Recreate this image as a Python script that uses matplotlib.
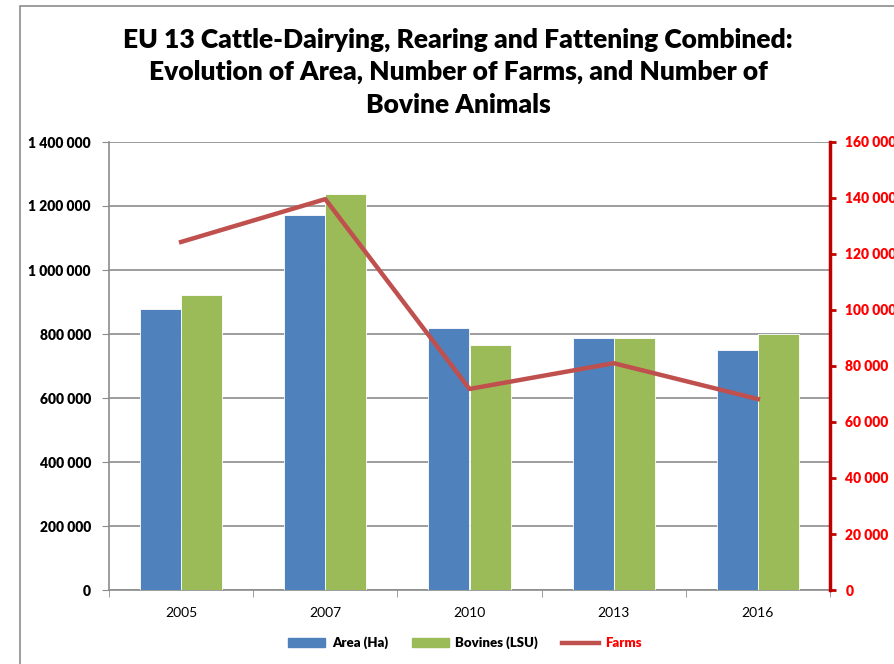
import numpy as np
import matplotlib.pyplot as plt
from matplotlib.patches import Patch, Rectangle
from matplotlib.lines import Line2D
from matplotlib.ticker import FuncFormatter, MultipleLocator

plt.rcParams['font.family'] = ['Lato', 'DejaVu Sans']

# Data
years = ['2005', '2007', '2010', '2013', '2016']
area_ha = [878000, 1172000, 819000, 787000, 750000]
bovines_lsu = [922000, 1238000, 766000, 787000, 800000]
farms = [124300, 139600, 71800, 81000, 68200]

title = ('EU 13 Cattle-Dairying, Rearing and Fattening Combined:\n'
         'Evolution of Area, Number of Farms, and Number of\n'
         'Bovine Animals')

blue = '#4F81BD'
green = '#9BBB59'
line_red = '#C0504D'
axis_red = '#C00000'
text_red = '#FF0000'
grid_grey = '#8C8C8C'


def space_fmt(v, pos):
    return f'{int(round(v)):,}'.replace(',', ' ')


fig = plt.figure(figsize=(8.94, 6.64), dpi=100)
# outer chart frame (cropped at right and bottom)
fig.patches.append(Rectangle((20 / 894, -0.05), 1.0, (664 - 6) / 664 + 0.05,
                             transform=fig.transFigure, fill=False,
                             edgecolor='#8C8C8C', linewidth=1.2))

ax = fig.add_axes([109 / 894, 74 / 664, 721 / 894, 448 / 664])
x = np.arange(len(years))
w = 0.285
ax.bar(x - w / 2, area_ha, w, color=blue, edgecolor='white', linewidth=0.6,
       zorder=3)
ax.bar(x + w / 2, bovines_lsu, w, color=green, edgecolor='white',
       linewidth=0.6, zorder=3)

ax.set_xlim(-0.5, len(years) - 0.5)
ax.set_ylim(0, 1400000)
ax.yaxis.set_major_locator(MultipleLocator(200000))
ax.yaxis.set_major_formatter(FuncFormatter(space_fmt))
ax.grid(axis='y', color=grid_grey, linewidth=1.2, zorder=0)
ax.set_xticks(x)
ax.set_xticklabels(years, fontsize=10)
ax.set_xticks(np.arange(len(years) + 1) - 0.5, minor=True)
ax.tick_params(axis='x', which='major', length=0, pad=12)
ax.tick_params(axis='x', which='minor', length=5, color=grid_grey)
ax.tick_params(axis='y', length=5, color=grid_grey, labelsize=10, pad=8)
for lbl in ax.get_yticklabels():
    lbl.set_fontweight('heavy')
for s in ['top', 'right']:
    ax.spines[s].set_visible(False)
for s in ['left', 'bottom']:
    ax.spines[s].set_color(grid_grey)
    ax.spines[s].set_linewidth(1.2)

ax2 = ax.twinx()
ax2.plot(x, farms, color=line_red, linewidth=3.2, zorder=4)
ax2.set_ylim(0, 160000)
ax2.yaxis.set_major_locator(MultipleLocator(20000))
ax2.yaxis.set_major_formatter(FuncFormatter(space_fmt))
ax2.tick_params(axis='y', colors=axis_red, length=4, width=2,
                labelsize=10, labelcolor=text_red, pad=7)
for lbl in ax2.get_yticklabels():
    lbl.set_fontweight('heavy')
for s in ['top', 'left', 'bottom']:
    ax2.spines[s].set_visible(False)
ax2.spines['right'].set_color(axis_red)
ax2.spines['right'].set_linewidth(2.5)

fig.text(458 / 894, 1 - 72 / 664, title, ha='center', va='center',
         fontsize=19, fontweight='heavy', linespacing=1.42)

handles = [Patch(color=blue), Patch(color=green),
           Line2D([0], [0], color=line_red, linewidth=3.2)]
leg = fig.legend(handles, ['Area (Ha)', 'Bovines (LSU)', 'Farms'],
                 loc='center', bbox_to_anchor=(465 / 894, 1 - 643 / 664),
                 ncol=3, frameon=False, handlelength=2.8, handleheight=0.6,
                 columnspacing=1.8, handletextpad=0.5,
                 prop={'size': 9.5, 'weight': 'heavy'})
leg.get_texts()[2].set_color(text_red)

fig.savefig('out.png', dpi=100)
